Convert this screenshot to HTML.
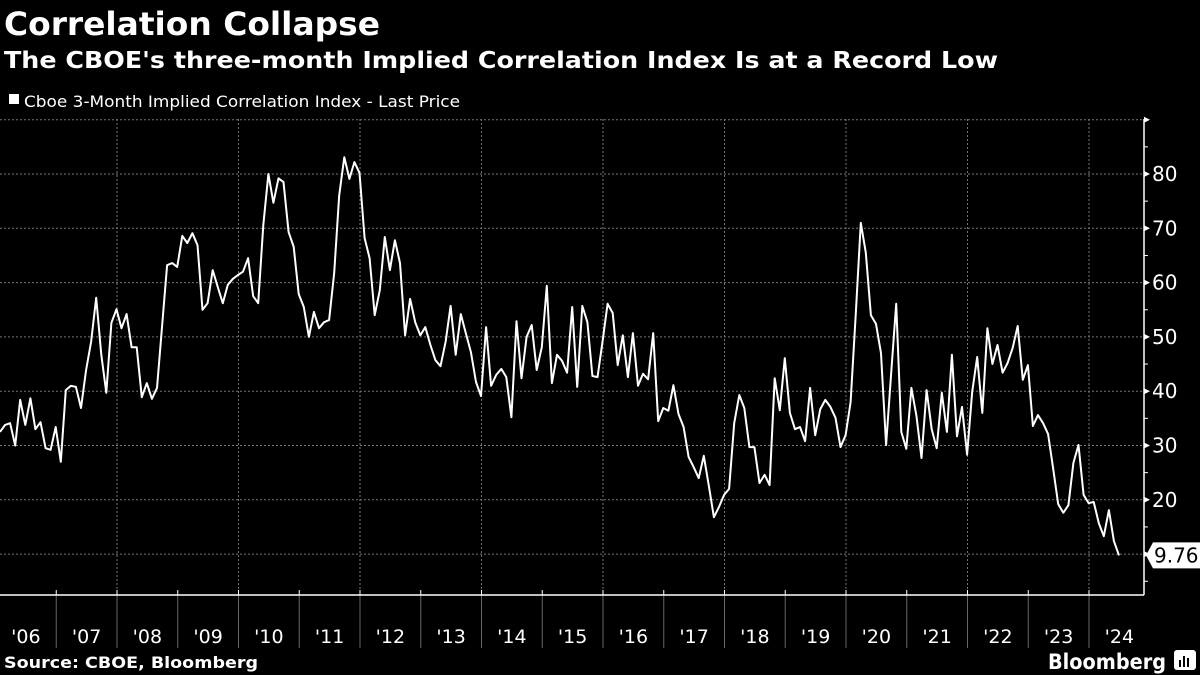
<!DOCTYPE html>
<html><head><meta charset="utf-8"><style>
html,body{margin:0;padding:0;background:#000;}
svg{display:block;}
text{font-family:"DejaVu Sans","Liberation Sans",sans-serif;fill:#fff;}
</style></head><body>
<svg id="chart" width="1200" height="675" viewBox="0 0 1200 675" xmlns="http://www.w3.org/2000/svg">
<rect width="1200" height="675" fill="#000"/>
<text x="4" y="35" font-size="32" font-weight="bold" textLength="376" lengthAdjust="spacingAndGlyphs">Correlation Collapse</text>
<text x="4" y="68" font-size="23" font-weight="bold" textLength="994" lengthAdjust="spacingAndGlyphs">The CBOE's three-month Implied Correlation Index Is at a Record Low</text>
<rect x="9" y="94" width="10" height="10" fill="#fff"/>
<text x="24" y="107" font-size="16" textLength="436" lengthAdjust="spacingAndGlyphs">Cboe 3-Month Implied Correlation Index - Last Price</text>
<g id="grid"></g>
<g id="axes"></g>
<g id="series"></g>
<text x="4" y="668" font-size="16" font-weight="bold" textLength="254" lengthAdjust="spacingAndGlyphs">Source: CBOE, Bloomberg</text>
<text x="1048" y="669" font-size="21" font-weight="bold" textLength="118" lengthAdjust="spacingAndGlyphs">Bloomberg</text>
<g>
<rect x="1174" y="650" width="22" height="20" rx="3" fill="#fff"/>
<rect x="1179" y="660" width="2" height="7" fill="#000"/><rect x="1183" y="656" width="2" height="11" fill="#000"/><rect x="1187" y="658" width="2" height="9" fill="#000"/>
</g>
</svg>
<script>
const yTicks = [10,20,30,40,50,60,70,80];
const gridYValues = [10,20,30,40,50,60,70,80,90];
const yearLabels = ["'06","'07","'08","'09","'10","'11","'12","'13","'14","'15","'16","'17","'18","'19","'20","'21","'22","'23","'24"];
const firstYear = 2006;
const startDate = 2006.074;
const endDate = 2024.494;
const lastValueLabel = "9.76";
const values = [32.5,33.8,34.1,30,38.4,33.8,38.7,33,34.3,29.5,
29.2,33.4,27,40.2,41,40.8,36.9,43.9,49.1,57.2,
46.7,39.7,52.6,55.1,51.6,54.2,48.1,48.1,38.9,41.5,
38.6,40.6,51.8,63.2,63.6,62.9,68.6,67.3,69.1,66.9,
55,56.2,62.3,59.2,56.2,59.6,60.7,61.4,62,64.5,
57.5,56.2,70.6,80,74.7,79.2,78.5,69.3,66.6,57.9,
55.5,50,54.6,51.6,52.7,53.1,61.8,76.1,83.1,79.1,
82.2,80.2,68.2,64.5,54,58.6,68.4,62.3,67.8,63.6,
50.3,57,52.7,50.3,51.8,48.5,45.7,44.6,49.1,55.7,46.7,54.2,50.7,47.2,41.7,39.1,51.8,41,43,44.1,42.6,35.2,52.9,42.4,50,52.2,43.9,48.1,59.4,41.5,46.7,45.6,43.4,55.5,40.8,55.7,52.7,42.8,42.6,49.1,56.1,54.4,44.8,50.3,42.6,50.7,41,43.2,42.2,50.7,34.5,36.9,36.4,41.1,35.8,33.4,27.9,26,24,28.1,22.5,16.8,18.7,20.9,22,34.1,39.3,36.9,29.7,29.7,23.1,24.6,22.7,42.4,36.5,
46.1,36,33,33.4,30.8,40.6,31.9,36.7,38.4,37.1,35.1,29.7,31.9,38,54,71,65.5,54,52.4,47,30.1,43.4,56.1,32.5,29.4,40.6,35.4,27.7,40.2,33,29.5,39.7,32.5,46.7,31.7,37.1,28.3,39.9,46.3,36,51.6,45,48.5,43.4,45.2,48,52,42.1,44.8,33.6,35.6,34.1,32.1,25.7,19.2,17.6,19,26.8,30.1,20.9,19.4,19.6,15.7,13.3,18.1,12.4,9.76];

const NS = "http://www.w3.org/2000/svg";
const axisX = 1144, axisBottom = 595, plotTop = 119;
function xScale(d){ return (d - 2006) * 60.75 - 4.5; }
function yScale(v){ return 174 + (80 - v) * 5.43; }
function mk(tag, attrs, parent){ const e=document.createElementNS(NS,tag); for(const k in attrs) e.setAttribute(k,attrs[k]); parent.appendChild(e); return e; }

const grid = document.getElementById('grid');
const axes = document.getElementById('axes');
const series = document.getElementById('series');

gridYValues.forEach(v=>{
  const l = mk('line',{x1:0,x2:axisX,y1:yScale(v),y2:yScale(v),stroke:'#777','stroke-width':1,'stroke-dasharray':'2,2'},grid);
  
  
});
for(let i=0;i<=yearLabels.length;i++){
  const yr = firstYear + i;
  const x = xScale(yr);
  if (i>0 && (yr % 2 === 0)) {
    const g = mk('line',{x1:x,x2:x,y1:plotTop,y2:axisBottom,stroke:'#777','stroke-width':1,'stroke-dasharray':'2,2'},grid);
    
    
  }
  if (i>0 && x < axisX) {
    const s = mk('line',{x1:x,x2:x,y1:axisBottom,y2:648,stroke:'#666','stroke-width':1},axes);
    
    
    const t = mk('line',{x1:x,x2:x,y1:axisBottom-5,y2:axisBottom,stroke:'#fff','stroke-width':1},axes);
    
    
  }
}
yearLabels.forEach((lab,i)=>{
  const t = mk('text',{x:xScale(firstYear+i+0.5),y:643,'font-size':19,'text-anchor':'middle'},axes);
  t.textContent = lab;
  
  
});
const xa = mk('line',{x1:0,x2:axisX,y1:axisBottom,y2:axisBottom,stroke:'#fff','stroke-width':1.5},axes);


const ya = mk('line',{x1:axisX,x2:axisX,y1:plotTop,y2:axisBottom,stroke:'#fff','stroke-width':1.5},axes);


for(let v=5; v<=90; v+=5){
  const y = yScale(v);
  if (v % 10 === 0) {
    const tri = mk('path',{d:`M${axisX} ${y-3} L${axisX+6} ${y} L${axisX} ${y+3} Z`,fill:'#fff'},axes);
    
    
  } else {
    const m = mk('line',{x1:axisX,x2:axisX+4,y1:y,y2:y,stroke:'#fff','stroke-width':1},axes);
    
    
  }
}
yTicks.forEach(v=>{
  const t = mk('text',{x:1152,y:yScale(v)+7,'font-size':20},axes);
  t.textContent = v;
  
  
});

const n = values.length;
const pts = values.map((v,i)=>{
  const d = startDate + i*(endDate-startDate)/(n-1);
  return xScale(d).toFixed(1)+','+yScale(v).toFixed(1);
});
const line = mk('polyline',{points:pts.join(' '),fill:'none',stroke:'#fff','stroke-width':2,'stroke-linejoin':'round'},series);



const lastY = yScale(values[n-1]);
const badge = mk('path',{d:`M1146 ${lastY} L1153 ${lastY-13} L1200 ${lastY-13} L1200 ${lastY+13} L1153 ${lastY+13} Z`,fill:'#fff'},series);


const bt = mk('text',{x:1154,y:lastY+7,'font-size':20,fill:'#000',style:'fill:#000'},series);
bt.textContent = lastValueLabel;


</script>
</body></html>
